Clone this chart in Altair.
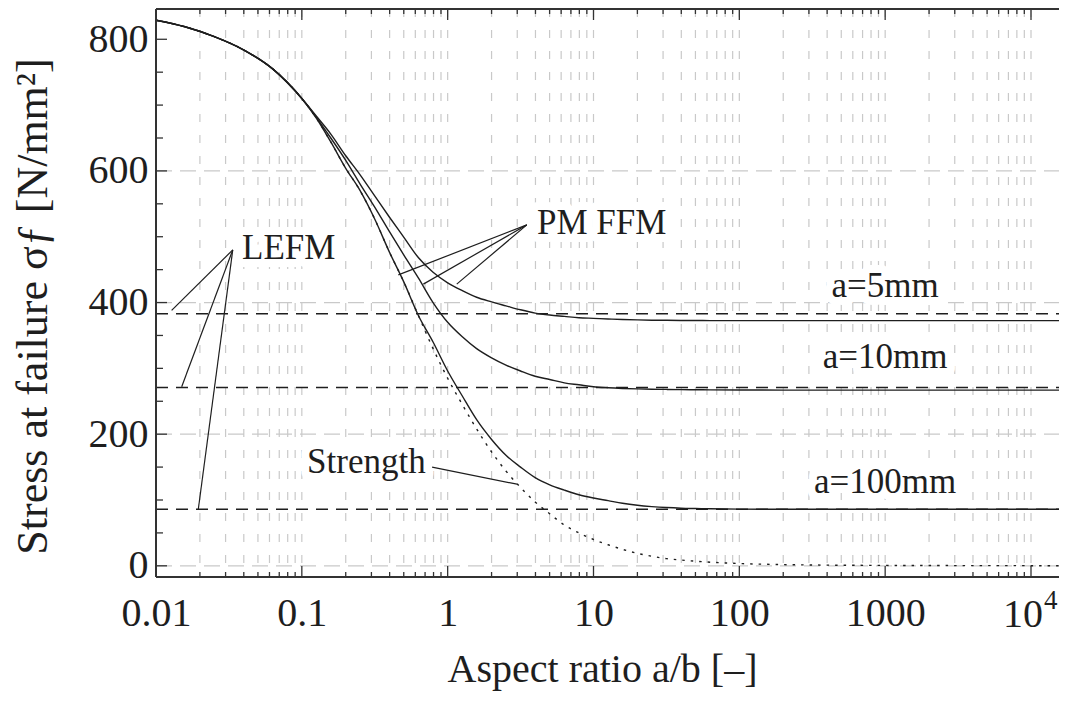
import altair as alt
import pandas as pd

# ---------------- data ----------------
x_vals = [0.01, 0.0158, 0.0251, 0.0398, 0.0631, 0.1, 0.126, 0.158, 0.2, 0.251,
          0.316, 0.398, 0.501, 0.631, 0.794, 1.0, 1.26, 1.58, 2.0, 2.51,
          3.16, 3.98, 5.01, 6.31, 7.94, 10.0, 12.6, 15.8, 20.0, 25.1,
          31.6, 39.8, 50.1, 63.1, 100.0, 200.0, 500.0, 1000.0, 3000.0, 10000.0,
          15560.0]

strength = [829, 819, 804, 784, 755, 710, 680, 644, 604, 570,
            527, 477, 431, 380, 330, 285, 245, 208, 173, 144,
            119, 97, 79, 62, 50, 40, 32, 25, 19, 14.5,
            11, 8.8, 7, 5.5, 3.5, 1.8, 0.9, 0.6, 0.35, 0.2,
            0.15]

pm_a100 = [829, 819, 804, 784, 755, 710, 680, 644, 604, 570,
           527, 477, 431, 380, 340, 296, 258, 222, 192, 168,
           150, 134, 123, 115, 108, 103, 99, 95, 92, 90,
           88.5, 87.5, 87, 86.6, 86.2, 86, 86, 86, 86, 86,
           86]

pm_a10 = [829, 819, 804, 784, 755, 710, 681, 650, 616, 580,
          545, 508, 472, 437, 400, 370, 348, 330, 316, 305,
          296, 288, 283, 278, 275, 272, 270.5, 269.5, 268.8, 268.3,
          268, 267.7, 267.5, 267.3, 267.1, 267, 267, 267, 267, 267,
          267]

pm_a5 = [829, 819, 804, 784, 755, 710, 683, 656, 623, 594,
         562, 530, 499, 468, 446, 430, 418, 408, 401, 395,
         389, 384, 381, 379, 377, 376, 375, 374.2, 373.6, 373.2,
         373, 372.8, 372.7, 372.6, 372.5, 372.5, 372.5, 372.5, 372.5, 372.5,
         372.5]

lefm_names = ["a=5mm", "a=10mm", "a=100mm"]
lefm_levels = [383, 271, 86]

x_decades = [0.01, 0.1, 1, 10, 100, 1000, 10000]
x_decade_labels = ["0.01", "0.1", "1", "10", "100", "1000", ""]   # 10^4 drawn separately
x_pow_base = ["10"]
x_pow_exp = ["4"]
x_pow_at = [10000]
x_minor = [m * d for d in [0.01, 0.1, 1, 10, 100, 1000, 10000] for m in range(2, 10) if m * d <= 15560]
y_major = [0, 200, 400, 600, 800]
y_minor = [50, 100, 150, 250, 300, 350, 450, 500, 550, 650, 700, 750]
y_grid = [0, 200, 400, 600]

# annotations (data coordinates)
left_text = ["LEFM", "PM FFM", "Strength"]
left_x = [0.0389, 4.10, 0.1086]
left_y = [466, 504, 141]
center_text = ["a=5mm", "a=10mm", "a=100mm"]
center_x = [1000, 1000, 1000]
center_y = [408, 300.5, 110.5]

leader_x1 = [0.0336, 0.0336, 0.0336, 3.49, 3.49, 3.49, 0.782]
leader_y1 = [480, 480, 480, 518, 518, 518, 150]
leader_x2 = [0.0128, 0.0150, 0.0195, 0.459, 0.681, 1.154, 2.99]
leader_y2 = [388, 272, 86, 442, 428, 428, 124]

# ---------------- tables ----------------
rows = []
for name, ys in [("a=5mm", pm_a5), ("a=10mm", pm_a10), ("a=100mm", pm_a100)]:
    for xv, yv in zip(x_vals, ys):
        rows.append({"x": xv, "y": yv, "series": name})
pm_df = pd.DataFrame(rows)
str_df = pd.DataFrame({"x": x_vals, "y": strength})
lefm_df = pd.DataFrame([{"x": xx, "y": lv, "series": n}
                        for n, lv in zip(lefm_names, lefm_levels) for xx in (x_vals[0], x_vals[-1])])
lab_l_df = pd.DataFrame({"x": left_x, "y": left_y, "text": left_text})
lab_c_df = pd.DataFrame({"x": center_x, "y": center_y, "text": center_text})
lead_df = pd.DataFrame({"x": leader_x1, "y": leader_y1, "x2": leader_x2, "y2": leader_y2})
pow_df = pd.DataFrame({"x": x_pow_at, "base": x_pow_base, "exp": x_pow_exp})
xdec_df = pd.DataFrame({"x": x_decades})
xmin_df = pd.DataFrame({"x": x_minor})
xall_df = pd.DataFrame({"x": x_decades + x_minor})
ymaj_df = pd.DataFrame({"y": y_major})
ymin_df = pd.DataFrame({"y": y_minor})
ygrid_df = pd.DataFrame({"y": y_grid})

# ---------------- styling ----------------
SERIF = "Liberation Serif, Times New Roman, serif"
INK = "#1e1e1e"
FRAME = "#333333"
GRID = "#c9c9c9"
W, H = 903, 568
XSC = alt.Scale(type="log", domain=[0.01, 15560], nice=False)
YSC = alt.Scale(domain=[-17, 846], nice=False, zero=False)

label_expr = "[" + ",".join("'" + s + "'" for s in x_decade_labels) + "][round(log(datum.value)/LN10)+2]"

X_AXIS = alt.Axis(values=x_decades, labelExpr=label_expr, ticks=False, domain=False, grid=False,
                  labelFont=SERIF, labelFontSize=40, labelColor=INK, labelPadding=16,
                  labelFlush=False, labelOverlap=False,
                  title="Aspect ratio a/b [\u2013]", titleFont=SERIF, titleFontSize=40,
                  titleFontWeight="normal", titleColor=INK, titleX=446, titleY=104,
                  titleBaseline="alphabetic")
Y_AXIS = alt.Axis(values=y_major, ticks=False, domain=False, grid=False,
                  labelFont=SERIF, labelFontSize=40, labelColor=INK, labelPadding=8,
                  labelOverlap=False, labelFlush=False,
                  title="Stress at failure \u03c3\u0192 [N/mm\u00b2]", titleFont=SERIF, titleFontSize=44,
                  titleFontWeight="normal", titleColor=INK, titleX=-110, titleY=297,
                  titleAngle=270, titleBaseline="alphabetic")


def X(field="x"):
    return alt.X(f"{field}:Q", scale=XSC, axis=X_AXIS)


def Y(field="y"):
    return alt.Y(f"{field}:Q", scale=YSC, axis=Y_AXIS)


# grids
vgrid = alt.Chart(xall_df).mark_rule(color=GRID, strokeWidth=1.2, strokeDash=[8, 13]).encode(
    x=X(), y=alt.value(0), y2=alt.value(H))
hgrid = alt.Chart(ygrid_df).mark_rule(color=GRID, strokeWidth=1.2, strokeDash=[16, 8]).encode(
    y=Y(), x=alt.value(0), x2=alt.value(W))

# frame (left, top, bottom)
frame_l = alt.Chart(ymaj_df).mark_rule(color=FRAME, strokeWidth=1.8).encode(
    x=alt.value(0), y=alt.value(0), y2=alt.value(H))
frame_t = alt.Chart(ymaj_df).mark_rule(color=FRAME, strokeWidth=1.8).encode(
    x=alt.value(0), x2=alt.value(W), y=alt.value(0))
frame_b = alt.Chart(ymaj_df).mark_rule(color=FRAME, strokeWidth=1.8).encode(
    x=alt.value(0), x2=alt.value(W), y=alt.value(H))

# ticks (inward)
tk = dict(color=FRAME, strokeWidth=1.3)
xt_bot_maj = alt.Chart(xdec_df).mark_rule(**tk).encode(x=X(), y=alt.value(H), y2=alt.value(H - 11))
xt_bot_min = alt.Chart(xmin_df).mark_rule(**tk).encode(x=X(), y=alt.value(H), y2=alt.value(H - 5))
xt_top_maj = alt.Chart(xdec_df).mark_rule(**tk).encode(x=X(), y=alt.value(0), y2=alt.value(11))
xt_top_min = alt.Chart(xmin_df).mark_rule(**tk).encode(x=X(), y=alt.value(0), y2=alt.value(5))
yt_maj = alt.Chart(ymaj_df).mark_rule(**tk).encode(y=Y(), x=alt.value(0), x2=alt.value(11))
yt_min = alt.Chart(ymin_df).mark_rule(**tk).encode(y=Y(), x=alt.value(0), x2=alt.value(7))

# 10^4 tick label with a real superscript
pow_base = alt.Chart(pow_df).mark_text(font=SERIF, fontSize=40, color=INK, align="right",
                                       baseline="alphabetic", dx=12).encode(
    x=X(), y=alt.value(H + 50), text="base:N")
pow_exp = alt.Chart(pow_df).mark_text(font=SERIF, fontSize=27, color=INK, align="left",
                                      baseline="alphabetic", dx=13).encode(
    x=X(), y=alt.value(H + 32), text="exp:N")

# label halos (white boxes behind text)
halo_kw = dict(font=SERIF, fontSize=35, baseline="alphabetic", fill="white",
               stroke="white", strokeWidth=16, strokeJoin="round")
halo_l = alt.Chart(lab_l_df).mark_text(align="left", **halo_kw).encode(x=X(), y=Y(), text="text:N")
halo_c = alt.Chart(lab_c_df).mark_text(align="center", **halo_kw).encode(x=X(), y=Y(), text="text:N")

# leader lines
leaders = alt.Chart(lead_df).mark_rule(color=INK, strokeWidth=1.2).encode(
    x=X(), y=Y(), x2=alt.X2("x2:Q"), y2=alt.Y2("y2:Q"))

# LEFM dashed
lefm = alt.Chart(lefm_df).mark_line(color=INK, strokeWidth=1.4, strokeDash=[12, 8], clip=True).encode(
    x=X(), y=Y(), detail="series:N")

# strength dotted
strength_line = alt.Chart(str_df).mark_line(color=INK, strokeWidth=1.4, strokeDash=[2.5, 6],
                                            interpolate="monotone", clip=True).encode(x=X(), y=Y())

# PM FFM curves
pm = alt.Chart(pm_df).mark_line(color=INK, strokeWidth=1.4, interpolate="monotone", clip=True).encode(
    x=X(), y=Y(), detail="series:N")

txt_kw = dict(font=SERIF, fontSize=35, baseline="alphabetic", color=INK)
labels_l = alt.Chart(lab_l_df).mark_text(align="left", **txt_kw).encode(x=X(), y=Y(), text="text:N")
labels_c = alt.Chart(lab_c_df).mark_text(align="center", **txt_kw).encode(x=X(), y=Y(), text="text:N")

chart = alt.layer(
    vgrid, hgrid, halo_l, halo_c, xt_bot_maj, xt_bot_min, xt_top_maj, xt_top_min, yt_maj, yt_min,
    leaders, lefm, strength_line, pm, labels_l, labels_c, pow_base, pow_exp, frame_l, frame_t, frame_b
).properties(
    width=W, height=H,
    padding={"left": 148, "top": 1, "right": 0, "bottom": 115},
    autosize=alt.AutoSizeParams(type="none"),
    background="white",
).configure_view(strokeWidth=0)

chart.save("out.html", embed_options={"renderer": "svg", "actions": False})
